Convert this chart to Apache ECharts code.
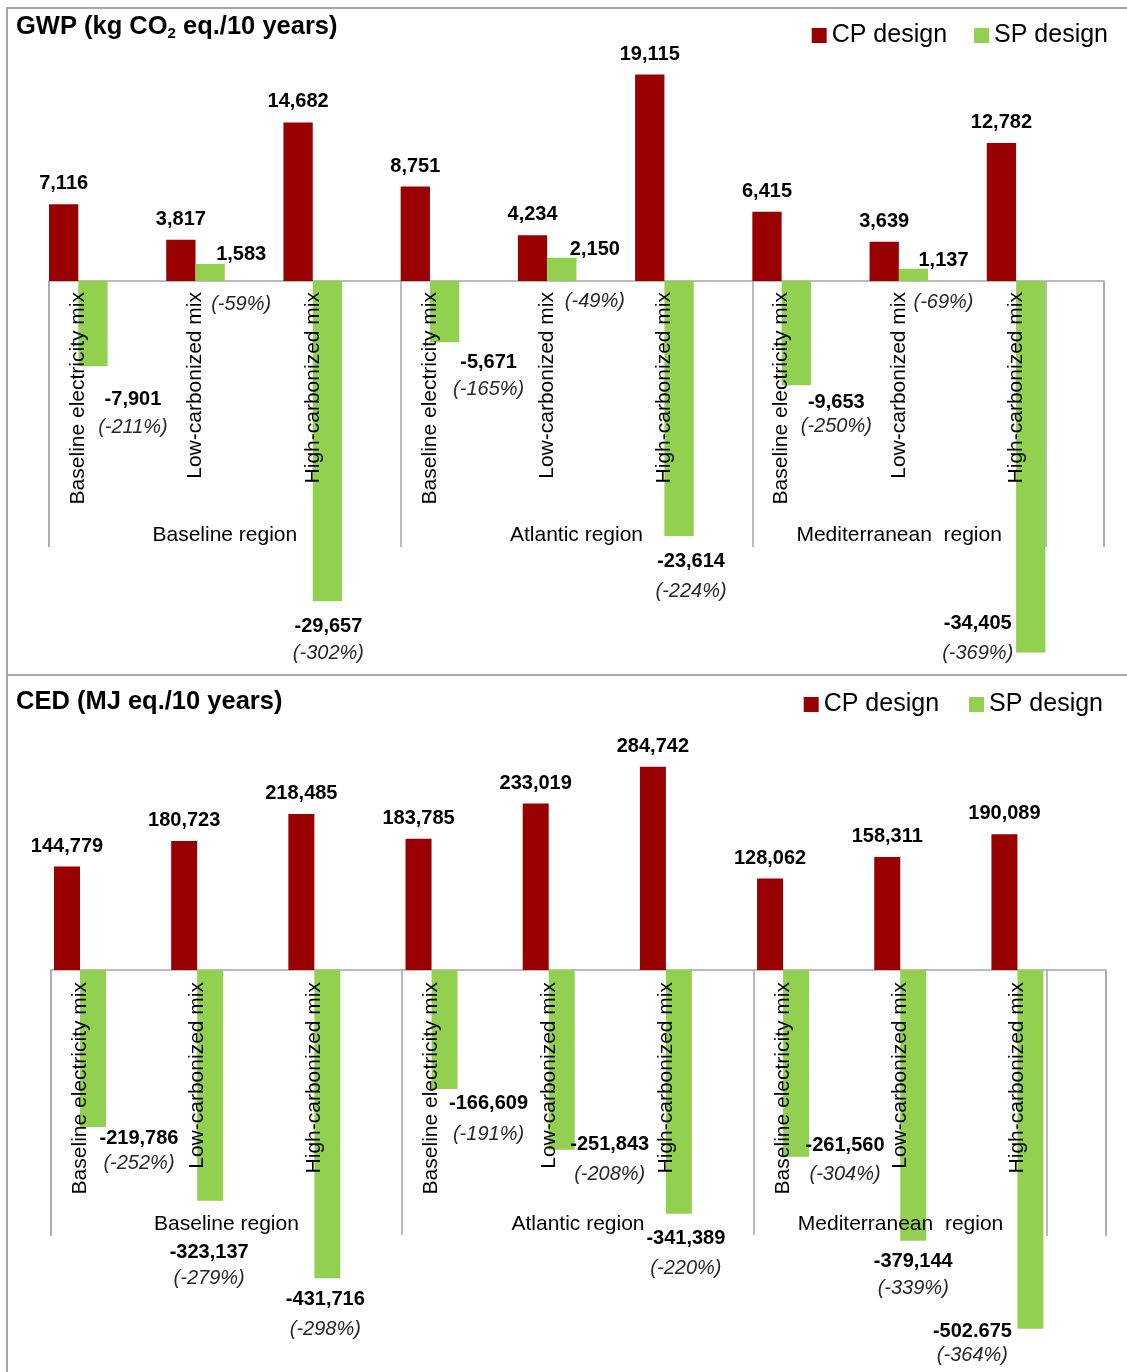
<!DOCTYPE html>
<html lang="en">
<head>
    <meta charset="UTF-8">
    <title>GWP / CED</title>
    <script src="https://cdn.jsdelivr.net/npm/echarts@6/dist/echarts.min.js"></script>
    <style>
        html, body { margin: 0; padding: 0; background: #fff; }
        #chart { width: 1127px; height: 1372px; }
    </style>
</head>
<body>
<div id="chart"></div>
<script>
    // categories
    var mixes = ['Baseline electricity mix', 'Low-carbonized mix', 'High-carbonized mix',
        'Baseline electricity mix', 'Low-carbonized mix', 'High-carbonized mix',
        'Baseline electricity mix', 'Low-carbonized mix', 'High-carbonized mix'];
    var regions = ['Baseline region', 'Atlantic region', 'Mediterranean  region'];

    // GWP (kg CO2 eq./10 years)
    var gwpCP = [7116, 3817, 14682, 8751, 4234, 19115, 6415, 3639, 12782];
    var gwpSP = [-7901, 1583, -29657, -5671, 2150, -23614, -9653, 1137, -34405];
    var gwpPct = [-211, -59, -302, -165, -49, -224, -250, -69, -369];

    // CED (MJ eq./10 years)
    var cedCP = [144779, 180723, 218485, 183785, 233019, 284742, 128062, 158311, 190089];
    var cedSP = [-219786, -323137, -431716, -166609, -251843, -341389, -261560, -379144, -502675];
    var cedPct = [-252, -279, -298, -191, -208, -220, -304, -339, -364];
    var cedSPText = { 8: '-502.675' }; // printed this way in the original

    // label placement of SP labels: [dx, dy, line spacing]
    var gwpSPPlace = [[40, 20, 28], [31, 54, 50], [1, 12, 27], [44, 7, 27], [33, 57, 52],
        [12, 11.5, 30], [40, 4, 24], [30, 47, 42], [-53, -43, 30]];
    var cedSPPlace = [[46, -2, 25], [-1, 38.5, 26], [-2, 7.6, 30], [44, 1.5, 31], [48, -19, 30],
        [7, 11, 30], [49, -25, 29], [0, 7.5, 27], [-58, -11, 24]];

    var FONT = 'Liberation Sans, Arial, sans-serif';
    var RED = '#990000', GREEN = '#92d050', GRAY = '#a6a6a6';

    // every category is split in two halves: bars sit in the left half, the right half stays empty
    function spread(arr) {
        var out = [];
        arr.forEach(function (v) { out.push(v, null); });
        return out;
    }
    var halfCats = spread(mixes).map(function (m) { return m === null ? '' : m; });

    function fmt(v) {
        return v.toLocaleString('en-US');
    }

    function spLabel(v, pct, p, txt) {
        var neg = v < 0;
        var s = p[2];
        var text = '{v|' + txt + '}\n' + (neg ? '' : '{g| }\n') + '{p|(' + pct + '%)}';
        return {
            show: true,
            position: neg ? 'bottom' : 'top',
            distance: 0,
            offset: [p[0], p[1]],
            formatter: text,
            rich: {
                v: { fontFamily: FONT, fontSize: 20, fontWeight: 'bold', color: '#000', lineHeight: 27 },
                p: { fontFamily: FONT, fontSize: 20, fontStyle: 'italic', color: '#262626',
                     lineHeight: neg ? 2 * (s - 13.5) : 27 },
                g: { fontSize: 2, lineHeight: s - 27 }
            }
        };
    }

    function spData(vals, pcts, place, override) {
        return spread(vals.map(function (v, i) {
            var txt = override && override[i] ? override[i] : fmt(v);
            return { value: v, label: spLabel(v, pcts[i], place[i], txt) };
        }));
    }

    var cpLabel = {
        show: true, position: 'top', distance: 7,
        fontFamily: FONT, fontSize: 20, fontWeight: 'bold', color: '#000', lineHeight: 27,
        formatter: function (p) { return fmt(p.value); }
    };

    // axis carrying the bars: line on zero + the lone vertical line at the last category centre
    function barAxis(grid, yIdx) {
        return {
            type: 'category', gridIndex: grid, data: halfCats, position: 'bottom', z: 0,
            axisLine: { show: true, onZero: true, onZeroAxisIndex: yIdx, lineStyle: { color: GRAY, width: 1.5 } },
            axisTick: {
                show: true, alignWithLabel: false, length: 266,
                interval: function (i) { return i === 0 || i === 17; },
                lineStyle: { color: GRAY, width: 1.5 }
            },
            axisLabel: { show: false },
            splitLine: { show: false }
        };
    }

    // label-only axes live in a thin grid whose bottom edge is the zero line
    function mixAxis(grid, margin) {
        return {
            type: 'category', gridIndex: grid, data: halfCats, position: 'bottom', z: 10,
            axisLine: { show: false, onZero: false },
            axisTick: { show: false },
            axisLabel: {
                interval: 0, rotate: 90, margin: margin,
                fontFamily: FONT, fontSize: 21, color: '#000', lineHeight: 24
            },
            splitLine: { show: false }
        };
    }

    function regionAxis(grid, tick) {
        return {
            type: 'category', gridIndex: grid, data: regions, position: 'bottom', z: 10,
            axisLine: { show: false, onZero: false },
            axisTick: { show: true, interval: 0, length: tick, lineStyle: { color: GRAY, width: 1.5 } },
            axisLabel: {
                interval: 0, margin: 242,
                fontFamily: FONT, fontSize: 21, color: '#000', lineHeight: 25,
                formatter: function (v, i) { return i === 2 ? '{m|' + v + '}' : v; },
                rich: { m: { fontFamily: FONT, fontSize: 21, color: '#000', lineHeight: 25, padding: [0, 58, 0, 0] } }
            },
            splitLine: { show: false }
        };
    }

    function legendAt(top, right, gap) {
        return {
            top: top, right: right, padding: 0, itemWidth: 15, itemHeight: 15, itemGap: gap,
            icon: 'rect', selectedMode: false,
            textStyle: { fontFamily: FONT, fontSize: 25, color: '#000' },
            data: ['CP design', 'SP design']
        };
    }

    var chart = echarts.init(document.getElementById('chart'), null, { renderer: 'canvas' });

    var option = {
        animation: false,
        backgroundColor: '#fff',
        graphic: [
            { type: 'rect', shape: { x: 7, y: 8, width: 1130, height: 667 }, style: { fill: 'none', stroke: GRAY, lineWidth: 2 }, silent: true },
            { type: 'rect', shape: { x: 7, y: 675, width: 1130, height: 710 }, style: { fill: 'none', stroke: GRAY, lineWidth: 2 }, silent: true }
        ],
        title: [
            {
                text: 'GWP (kg CO{sub|2} eq./10 years)', left: 16, top: 12, padding: 0,
                textStyle: {
                    fontFamily: FONT, fontSize: 25.5, fontWeight: 'bold', color: '#000', lineHeight: 30,
                    rich: { sub: { fontFamily: FONT, fontSize: 15, fontWeight: 'bold', color: '#000', padding: [14, 0, 0, 0] } }
                }
            },
            {
                text: 'CED (MJ eq./10 years)', left: 16, top: 687, padding: 0,
                textStyle: { fontFamily: FONT, fontSize: 25.5, fontWeight: 'bold', color: '#000', lineHeight: 30 }
            }
        ],
        legend: [legendAt(23, 19, 27), legendAt(692, 24, 30)],
        grid: [
            { left: 49, width: 1055, top: 65, height: 604.8, containLabel: false, outerBoundsMode: 'none' },
            { left: 50.7, width: 1054.6, top: 755.8, height: 614, containLabel: false, outerBoundsMode: 'none' },
            { left: 49, width: 1055, top: 231, height: 50, containLabel: false, outerBoundsMode: 'none' },
            { left: 50.7, width: 1054.6, top: 920, height: 50, containLabel: false, outerBoundsMode: 'none' }
        ],
        xAxis: [
            barAxis(0, 0), mixAxis(2, 11), regionAxis(2, 266),
            barAxis(1, 1), mixAxis(3, 12), regionAxis(3, 265)
        ],
        yAxis: [
            { type: 'value', gridIndex: 0, min: -36000, max: 20000, show: false, splitLine: { show: false } },
            { type: 'value', gridIndex: 1, min: -560000, max: 300000, show: false, splitLine: { show: false } },
            { type: 'value', gridIndex: 2, min: 0, max: 1, show: false, splitLine: { show: false } },
            { type: 'value', gridIndex: 3, min: 0, max: 1, show: false, splitLine: { show: false } }
        ],
        series: [
            { name: 'CP design', type: 'bar', xAxisIndex: 0, yAxisIndex: 0, data: spread(gwpCP),
              barGap: 0, barCategoryGap: 0, itemStyle: { color: RED }, label: cpLabel, z: 2 },
            { name: 'SP design', type: 'bar', xAxisIndex: 0, yAxisIndex: 0,
              barGap: 0, barCategoryGap: 0,
              data: spData(gwpSP, gwpPct, gwpSPPlace), itemStyle: { color: GREEN }, z: 2 },

            { name: 'CP design', type: 'bar', xAxisIndex: 3, yAxisIndex: 1, data: spread(cedCP), barWidth: 26,
              barGap: 0, itemStyle: { color: RED }, label: cpLabel, z: 2 },
            { name: 'SP design', type: 'bar', xAxisIndex: 3, yAxisIndex: 1, barWidth: 26, barGap: 0,
              data: spData(cedSP, cedPct, cedSPPlace, cedSPText), itemStyle: { color: GREEN }, z: 2 }
        ]
    };

    chart.setOption(option);
</script>
</body>
</html>
